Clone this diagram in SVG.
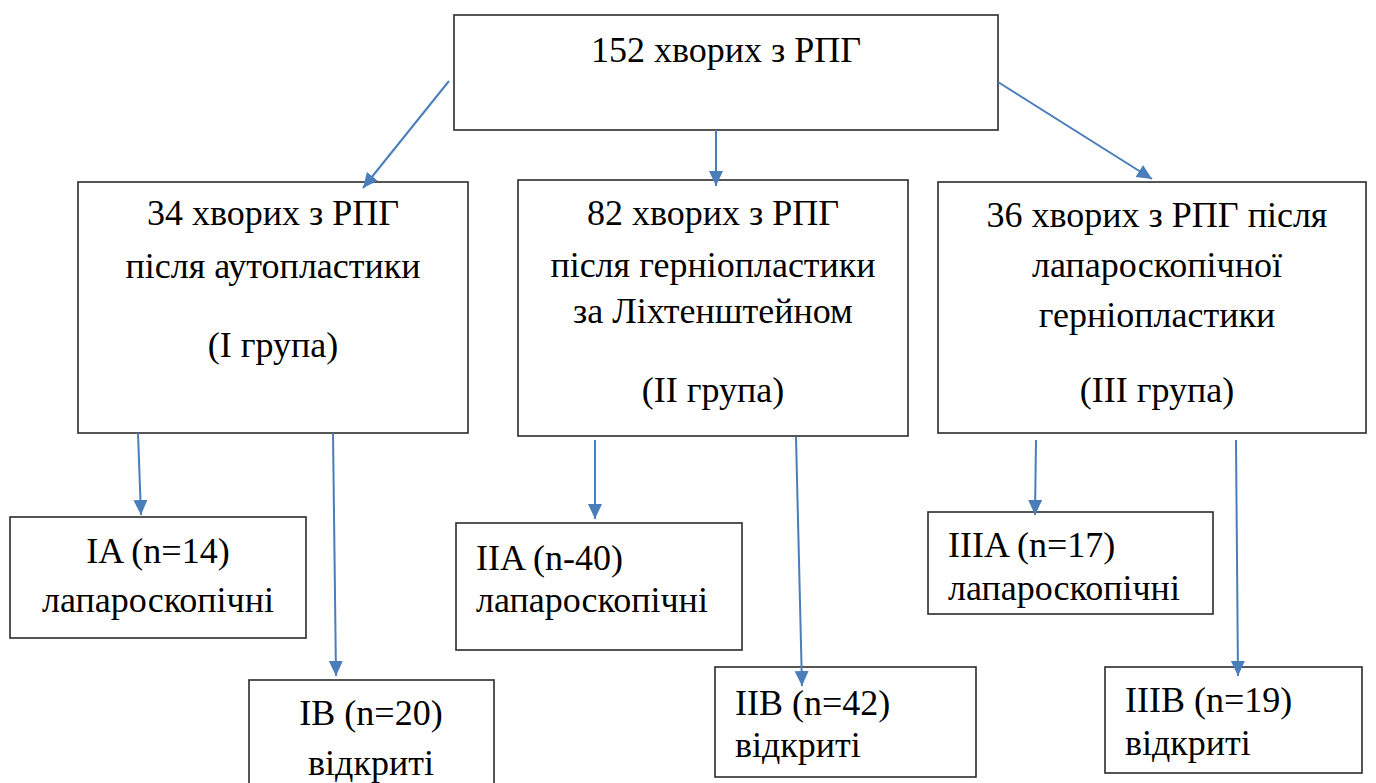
<svg xmlns="http://www.w3.org/2000/svg" width="1376" height="783" viewBox="0 0 1376 783">
<style>
.box{fill:#fff;stroke:#2b2b2b;stroke-width:1.6}
text{font-family:"Liberation Serif","Tinos","Times New Roman","Noto Serif","DejaVu Serif","FreeSerif",serif;font-size:36px;fill:#000}
.c{text-anchor:middle}
.ar{stroke:#4a7ebb;stroke-width:2;fill:none;marker-end:url(#ah)}
</style>
<defs>
<marker id="ah" markerUnits="userSpaceOnUse" markerWidth="16" markerHeight="16" refX="15" refY="7" orient="auto">
<path d="M0,0 L15,7 L0,14 Z" fill="#4a7ebb"/>
</marker>
</defs>
<rect width="1376" height="783" fill="#fff"/>
<g id="n0"><rect class="box" x="454" y="15" width="544" height="115"/><text class="c" x="726" y="62">152 хворих з РПГ</text></g>
<g id="n1"><rect class="box" x="78" y="182" width="390" height="251"/>
<text class="c" x="273" y="225">34 хворих з РПГ</text>
<text class="c" x="273" y="278">після аутопластики</text>
<text class="c" x="273" y="357">(I група)</text></g>
<g id="n2"><rect class="box" x="518" y="180" width="390" height="256"/>
<text class="c" x="713" y="225">82 хворих з РПГ</text>
<text class="c" x="713" y="277">після герніопластики</text>
<text class="c" x="713" y="323">за Ліхтенштейном</text>
<text class="c" x="713" y="402">(II група)</text></g>
<g id="n3"><rect class="box" x="938" y="182" width="428" height="251"/>
<text class="c" x="1157" y="227">36 хворих з РПГ після</text>
<text class="c" x="1157" y="277">лапароскопічної</text>
<text class="c" x="1157" y="327">герніопластики</text>
<text class="c" x="1157" y="402">(III група)</text></g>
<g id="n4"><rect class="box" x="10" y="517" width="296" height="121"/>
<text class="c" x="158" y="563">IA (n=14)</text>
<text class="c" x="158" y="612">лапароскопічні</text></g>
<g id="n5"><rect class="box" x="249" y="680" width="245" height="110"/>
<text class="c" x="371" y="725">IB (n=20)</text>
<text class="c" x="371" y="775">відкриті</text></g>
<g id="n6"><rect class="box" x="456" y="523" width="286" height="127"/>
<text x="476" y="570">IIA (n-40)</text>
<text x="476" y="612">лапароскопічні</text></g>
<g id="n7"><rect class="box" x="715" y="667" width="261" height="110"/>
<text x="735" y="715">IIB (n=42)</text>
<text x="735" y="757">відкриті</text></g>
<g id="n8"><rect class="box" x="928" y="512" width="285" height="102"/>
<text x="948" y="557">IIIA (n=17)</text>
<text x="948" y="600">лапароскопічні</text></g>
<g id="n9"><rect class="box" x="1105" y="667" width="257" height="106"/>
<text x="1125" y="712">IIIB (n=19)</text>
<text x="1125" y="755">відкриті</text></g>
<g id="connectors">
<line class="ar" x1="449" y1="81" x2="363" y2="188"/>
<line class="ar" x1="716" y1="130" x2="716" y2="186"/>
<line class="ar" x1="998" y1="82" x2="1152" y2="179"/>
<line class="ar" x1="138" y1="433" x2="141" y2="515"/>
<line class="ar" x1="333" y1="433" x2="336" y2="676"/>
<line class="ar" x1="595" y1="440" x2="595" y2="519"/>
<line class="ar" x1="796" y1="437" x2="802" y2="686"/>
<line class="ar" x1="1036" y1="440" x2="1035" y2="515"/>
<line class="ar" x1="1236" y1="440" x2="1238" y2="676"/>
</g>
</svg>
